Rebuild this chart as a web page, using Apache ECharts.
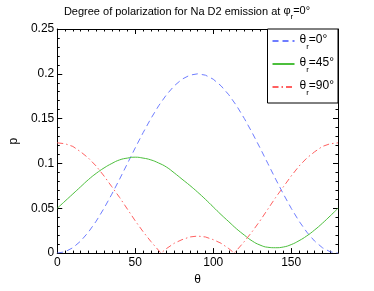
<!DOCTYPE html>
<html><head><meta charset="utf-8">
<script src="https://cdn.jsdelivr.net/npm/echarts@6/dist/echarts.min.js"></script>
<style>html,body{margin:0;padding:0;background:#fff}#c{width:374px;height:291px}</style>
</head><body><div id="c"></div>
<script>
// theta (degrees) sample points
var theta = [0,5,10,15,20,25,30,35,40,45,50,55,60,65,70,75,80,85,90,95,100,105,110,115,120,125,130,135,140,145,150,155,160,165,170,175,180];
// theta_r = 0 deg (blue dashed)
var p0 = [0,0.0015,0.006,0.0134,0.0234,0.0357,0.05,0.0658,0.0826,0.1,0.1174,0.1342,0.15,0.1643,0.1766,0.1866,0.194,0.1985,0.2,0.1985,0.194,0.1866,0.1766,0.1643,0.15,0.1342,0.1174,0.1,0.0826,0.0658,0.05,0.0357,0.0234,0.0134,0.006,0.0015,0];
// theta_r = 45 deg (green solid)
var p45 = [0.050,0.058,0.066,0.074,0.082,0.089,0.095,0.100,0.104,0.106,0.107,0.106,0.104,0.1005,0.096,0.0895,0.0825,0.0755,0.068,0.060,0.0515,0.043,0.035,0.027,0.020,0.0135,0.009,0.0065,0.006,0.0068,0.0095,0.0138,0.0192,0.0258,0.0333,0.0415,0.050];
// theta_r = 90 deg (red dash-dot) with its own sample points (incl. the zeros)
var thetaR = [0,5,10,15,20,25,30,35,40,45,50,55,60,65,66.5,70,75,80,85,90,95,100,105,110,113.5,115,120,125,130,135,140,145,150,155,160,165,170,175,180];
var p90 = [0.123,0.122,0.119,0.113,0.106,0.097,0.086,0.074,0.062,0.049,0.036,0.024,0.013,0.003,0,0.005,0.011,0.015,0.018,0.019,0.018,0.015,0.011,0.005,0,0.003,0.013,0.024,0.036,0.049,0.062,0.074,0.086,0.097,0.106,0.113,0.119,0.122,0.123];
var legendNames = ['0','45','90'];

function pairs(xs, ys){ return xs.map(function(x,i){return [x, ys[i]];}); }

var font = 'Liberation Sans';
function mkRich(fs){ return {
  t:{fontFamily:font,fontSize:fs,color:'#000',lineHeight:fs+2,verticalAlign:'top'},
  s:{fontFamily:font,fontSize:8,color:'#000',lineHeight:8,padding:[fs-3,0,0,0],verticalAlign:'top'}
};}
function axisCommon(pos, showLabel, isX){
  return {
    type:'value', position:pos,
    min:0, max:isX?180:0.25, interval:isX?50:0.05,
    axisLine:{show:true,onZero:false,lineStyle:{color:'#000',width:1}},
    axisTick:{show:true,inside:true,length:5,lineStyle:{color:'#000'}},
    minorTick:{show:true,splitNumber:isX?10:5,length:2.5,lineStyle:{color:'#000'}},
    splitLine:{show:false},
    axisLabel:{show:showLabel,color:'#000',fontFamily:font,fontSize:12,margin:isX?4:3,showMaxLabel:isX?false:true},
    axisPointer:{show:false}
  };
}
var xb = axisCommon('bottom', true, true);
xb.name = 'θ'; xb.nameLocation='middle'; xb.nameGap=15;
xb.nameTextStyle={fontFamily:font,fontSize:12,color:'#000'};
var xt = axisCommon('top', false, true);
var yl = axisCommon('left', true, false);
yl.name='p'; yl.nameLocation='middle'; yl.nameGap=27;
yl.nameTextStyle={fontFamily:font,fontSize:12,color:'#000'};
var yr = axisCommon('right', false, false);

var chart = echarts.init(document.getElementById('c'), null, {renderer:'canvas'});
chart.setOption({
  animation:false,
  backgroundColor:'#fff',
  title:{
    text:'Degree of polarization for Na D2 emission at {t|φ}{s|r}{t|=0°}',
    left:'center', top:0, padding:[5,0,5,16],
    textStyle:{fontFamily:font,fontSize:11,fontWeight:'normal',color:'#000',rich:mkRich(11)}
  },
  grid:{left:49,right:36,top:29,bottom:32,containLabel:false},
  xAxis:[xb, xt],
  yAxis:[yl, yr],
  legend:{
    orient:'vertical', right:36, top:29,
    padding:[5,4,6,4], itemGap:6, itemWidth:22, itemHeight:14,
    backgroundColor:'#fff', borderColor:'#000', borderWidth:1,
    itemStyle:{color:'rgba(0,0,0,0)',borderWidth:0,opacity:0},
    formatter:function(n){ return '{t|θ}{s|r}{t|=' + n + '°}'; },
    textStyle:{fontFamily:font,fontSize:12,color:'#000',rich:mkRich(12)},
    data:legendNames
  },
  series:[
    {name:legendNames[0],type:'line',data:pairs(theta,p0),symbol:'none',smooth:false,
     lineStyle:{color:'#6e7dff',width:1,type:[6,4]},itemStyle:{color:'#6e7dff'}},
    {name:legendNames[1],type:'line',data:pairs(theta,p45),symbol:'none',smooth:true,
     lineStyle:{color:'#4cbf3c',width:1,type:'solid'},itemStyle:{color:'#4cbf3c'}},
    {name:legendNames[2],type:'line',data:pairs(thetaR,p90),symbol:'none',smooth:false,
     lineStyle:{color:'#ff6060',width:1,type:[6,3,1.5,3]},itemStyle:{color:'#ff6060'}}
  ]
});
</script></body></html>
